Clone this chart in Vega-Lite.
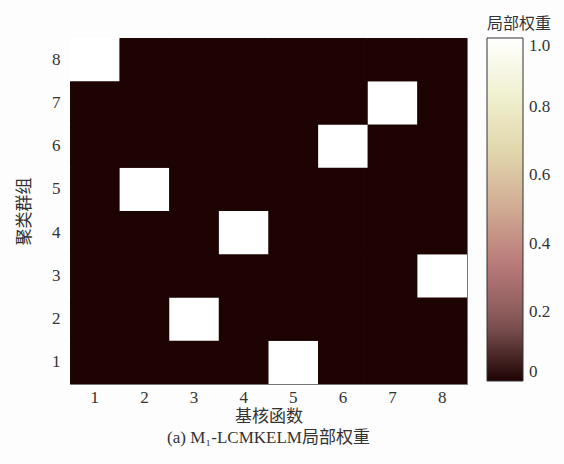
{
  "$schema": "https://vega.github.io/schema/vega-lite/v6.json",
  "width": 397,
  "height": 346,
  "autosize": {"type": "none"},
  "padding": {"left": 70, "top": 38, "right": 97, "bottom": 80},
  "background": "#fdfdfd",
  "title": {
    "text": "(a) M₁-LCMKELM局部权重",
    "orient": "bottom",
    "anchor": "middle",
    "offset": 6,
    "font": "Liberation Serif, Noto Sans CJK SC",
    "fontSize": 17,
    "fontWeight": "normal",
    "color": "#333333"
  },
  "config": {
    "view": {"stroke": "#777777", "strokeWidth": 1, "fill": "#1e0303"},
    "axis": {
      "labelFont": "Liberation Serif",
      "labelFontSize": 17,
      "labelColor": "#333333",
      "titleFont": "Liberation Serif, Noto Sans CJK SC",
      "titleFontSize": 17,
      "titleFontWeight": "normal",
      "titleColor": "#333333",
      "domain": false,
      "ticks": false,
      "grid": false,
      "labelAngle": 0
    }
  },
  "data": {
    "values": [
      {"x": 1, "y": 1, "v": 0}, {"x": 2, "y": 1, "v": 0}, {"x": 3, "y": 1, "v": 0}, {"x": 4, "y": 1, "v": 0}, {"x": 5, "y": 1, "v": 1}, {"x": 6, "y": 1, "v": 0}, {"x": 7, "y": 1, "v": 0}, {"x": 8, "y": 1, "v": 0},
      {"x": 1, "y": 2, "v": 0}, {"x": 2, "y": 2, "v": 0}, {"x": 3, "y": 2, "v": 1}, {"x": 4, "y": 2, "v": 0}, {"x": 5, "y": 2, "v": 0}, {"x": 6, "y": 2, "v": 0}, {"x": 7, "y": 2, "v": 0}, {"x": 8, "y": 2, "v": 0},
      {"x": 1, "y": 3, "v": 0}, {"x": 2, "y": 3, "v": 0}, {"x": 3, "y": 3, "v": 0}, {"x": 4, "y": 3, "v": 0}, {"x": 5, "y": 3, "v": 0}, {"x": 6, "y": 3, "v": 0}, {"x": 7, "y": 3, "v": 0}, {"x": 8, "y": 3, "v": 1},
      {"x": 1, "y": 4, "v": 0}, {"x": 2, "y": 4, "v": 0}, {"x": 3, "y": 4, "v": 0}, {"x": 4, "y": 4, "v": 1}, {"x": 5, "y": 4, "v": 0}, {"x": 6, "y": 4, "v": 0}, {"x": 7, "y": 4, "v": 0}, {"x": 8, "y": 4, "v": 0},
      {"x": 1, "y": 5, "v": 0}, {"x": 2, "y": 5, "v": 1}, {"x": 3, "y": 5, "v": 0}, {"x": 4, "y": 5, "v": 0}, {"x": 5, "y": 5, "v": 0}, {"x": 6, "y": 5, "v": 0}, {"x": 7, "y": 5, "v": 0}, {"x": 8, "y": 5, "v": 0},
      {"x": 1, "y": 6, "v": 0}, {"x": 2, "y": 6, "v": 0}, {"x": 3, "y": 6, "v": 0}, {"x": 4, "y": 6, "v": 0}, {"x": 5, "y": 6, "v": 0}, {"x": 6, "y": 6, "v": 1}, {"x": 7, "y": 6, "v": 0}, {"x": 8, "y": 6, "v": 0},
      {"x": 1, "y": 7, "v": 0}, {"x": 2, "y": 7, "v": 0}, {"x": 3, "y": 7, "v": 0}, {"x": 4, "y": 7, "v": 0}, {"x": 5, "y": 7, "v": 0}, {"x": 6, "y": 7, "v": 0}, {"x": 7, "y": 7, "v": 1}, {"x": 8, "y": 7, "v": 0},
      {"x": 1, "y": 8, "v": 1}, {"x": 2, "y": 8, "v": 0}, {"x": 3, "y": 8, "v": 0}, {"x": 4, "y": 8, "v": 0}, {"x": 5, "y": 8, "v": 0}, {"x": 6, "y": 8, "v": 0}, {"x": 7, "y": 8, "v": 0}, {"x": 8, "y": 8, "v": 0}
    ]
  },
  "mark": {"type": "rect"},
  "encoding": {
    "x": {
      "field": "x",
      "type": "ordinal",
      "scale": {"paddingInner": 0, "paddingOuter": 0},
      "axis": {"title": "基核函数", "labelPadding": 5, "titlePadding": 3}
    },
    "y": {
      "field": "y",
      "type": "ordinal",
      "sort": "descending",
      "scale": {"paddingInner": 0, "paddingOuter": 0},
      "axis": {"title": "聚类群组", "labelPadding": 10, "titlePadding": 18}
    },
    "color": {
      "field": "v",
      "type": "quantitative",
      "scale": {
        "domain": [0, 1],
        "interpolate": "rgb",
        "range": ["#1e0303", "#825555", "#b87878", "#d0aa93", "#e1d6aa", "#f0f0d0", "#ffffff"]
      },
      "legend": {
        "orient": "none",
        "legendX": 417,
        "legendY": -22,
        "direction": "vertical",
        "title": "局部权重",
        "titleFont": "Noto Sans CJK SC",
        "titleFontSize": 16,
        "titleFontWeight": "normal",
        "titleColor": "#333333",
        "titlePadding": 6,
        "gradientLength": 343,
        "gradientThickness": 36,
        "gradientStrokeColor": "#333333",
        "gradientStrokeWidth": 1,
        "values": [0, 0.2, 0.4, 0.6, 0.8, 1],
        "labelExpr": "datum.value == 0 ? '0' : format(datum.value, '.1f')",
        "labelFont": "Liberation Serif",
        "labelFontSize": 17,
        "labelColor": "#333333",
        "labelOffset": 6
      }
    }
  }
}
